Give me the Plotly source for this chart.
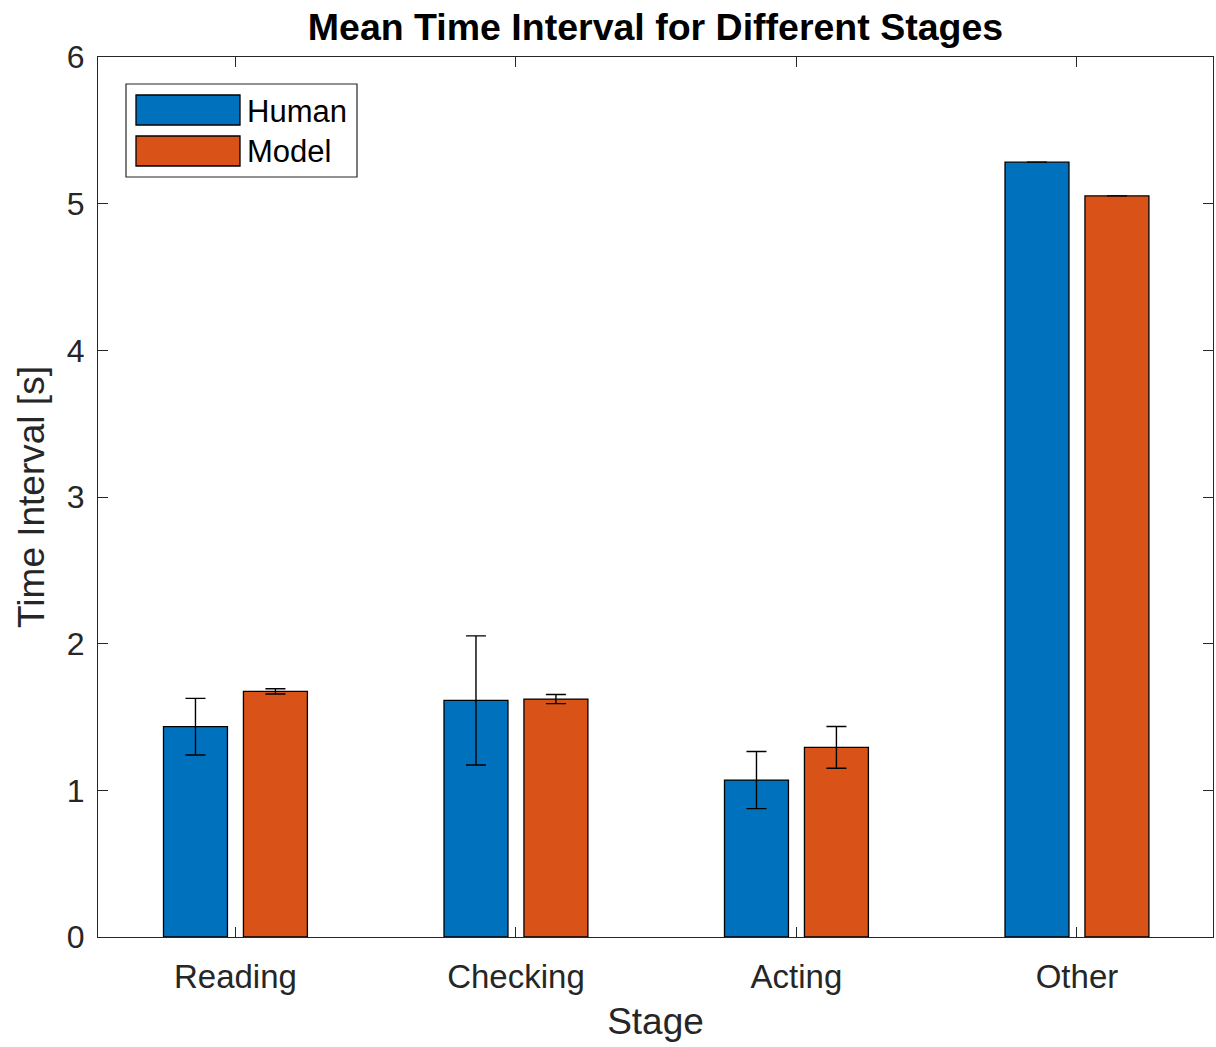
import plotly.graph_objects as go

# Stage categories and mean time intervals (s) with their error half-widths
stages = ["Reading", "Checking", "Acting", "Other"]
human_mean = [1.434, 1.613, 1.070, 5.283]
human_err = [0.193, 0.440, 0.195, 0.0]
model_mean = [1.675, 1.622, 1.293, 5.053]
model_err = [0.018, 0.031, 0.142, 0.0]
series_names = ["Human", "Model"]
y_ticks = [0, 1, 2, 3, 4, 5, 6]

BLUE = "#0072BD"
ORANGE = "#D95319"
AXIS = "#262626"
FONT = "Liberation Sans, Arial, sans-serif"

fig = go.Figure()
for name, vals, errs, col in [
    (series_names[0], human_mean, human_err, BLUE),
    (series_names[1], model_mean, model_err, ORANGE),
]:
    fig.add_trace(go.Bar(
        x=stages, y=vals, name=name,
        marker=dict(color=col, line=dict(color="#000000", width=1.3)),
        error_y=dict(type="data", array=errs, visible=True,
                     color="#000000", thickness=1.4, width=10),
        showlegend=False,
    ))

# Legend box drawn in paper coordinates with wide MATLAB-style swatches
def px_x(p):
    return (p - 98) / 1115.0

def px_y(p):
    return (937 - p) / 880.0

shapes = [
    dict(type="rect", xref="paper", yref="paper",
         x0=px_x(126), x1=px_x(357), y0=px_y(177), y1=px_y(84),
         line=dict(color=AXIS, width=1.2), fillcolor="white"),
]
annotations = []
for i, (name, col) in enumerate(zip(series_names, [BLUE, ORANGE])):
    top = 95 + i * 41
    shapes.append(dict(type="rect", xref="paper", yref="paper",
                       x0=px_x(136), x1=px_x(240),
                       y0=px_y(top + 30), y1=px_y(top),
                       line=dict(color="#000000", width=1.3), fillcolor=col))
    annotations.append(dict(xref="paper", yref="paper",
                            x=px_x(245), y=px_y(top + 16),
                            xanchor="left", yanchor="middle",
                            text=name, showarrow=False,
                            font=dict(family=FONT, size=31, color="#000000")))

fig.update_layout(
    barmode="group",
    bargap=0.43,
    bargroupgap=0.2,
    width=1216, height=1047,
    margin=dict(l=98, r=3, t=57, b=110),
    paper_bgcolor="white", plot_bgcolor="white",
    font=dict(family=FONT, color=AXIS),
    title=dict(text="<b>Mean Time Interval for Different Stages</b>",
               x=(98 + 1213) / 2 / 1216, xanchor="center",
               y=1 - 27 / 1047, yref="container", yanchor="middle",
               font=dict(family=FONT, size=37.5, color="#000000")),
    shapes=shapes,
    annotations=annotations,
    xaxis=dict(
        range=[-0.49, 3.485],
        showline=True, linecolor=AXIS, linewidth=1.3, mirror="ticks",
        ticks="inside", ticklen=10, tickcolor=AXIS, tickwidth=1.3,
        showgrid=False, zeroline=False,
        tickfont=dict(family=FONT, size=33, color=AXIS),
        ticklabelstandoff=10,
        title=dict(text="Stage", standoff=14,
                   font=dict(family=FONT, size=37, color=AXIS)),
    ),
    yaxis=dict(
        range=[0, 6], tickvals=y_ticks,
        showline=True, linecolor=AXIS, linewidth=1.3, mirror="ticks",
        ticks="inside", ticklen=10, tickcolor=AXIS, tickwidth=1.3,
        showgrid=False, zeroline=False,
        tickfont=dict(family=FONT, size=32, color=AXIS),
        ticklabelstandoff=6,
        title=dict(text="Time Interval [s]", standoff=10,
                   font=dict(family=FONT, size=37, color=AXIS)),
    ),
)

fig.write_html("out.html")
